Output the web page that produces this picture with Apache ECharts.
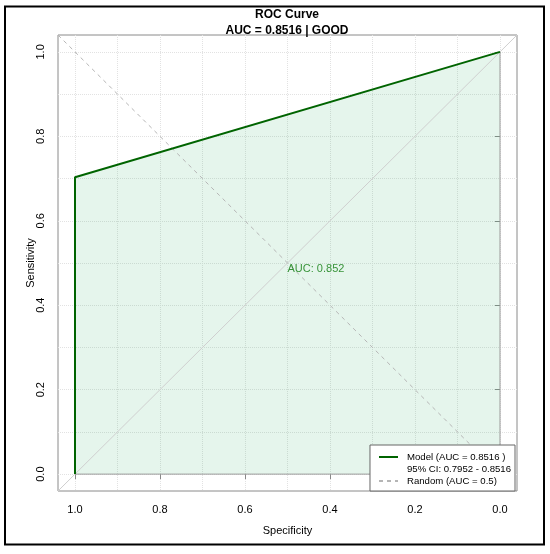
<!DOCTYPE html>
<html>
<head>
<meta charset="utf-8">
<script src="https://cdn.jsdelivr.net/npm/echarts@6/dist/echarts.min.js"></script>
<style>html,body{margin:0;padding:0;background:#fff}#c{width:550px;height:554px}</style>
</head>
<body>
<div id="c"></div>
<script>
// ---- data ----
var rocSpecificity = [1.0, 1.0, 0.0];
var rocSensitivity = [0.0, 0.703, 1.0];
var fillBorderSpec = [1.0, 0.0, 0.0];
var fillBorderSens = [0.0, 0.0, 1.0];
var identitySpec = [1.04, -0.04];
var identitySens = [-0.04, 1.04];
var randomSpec = [1.04, -0.04];
var randomSens = [1.04, -0.04];
var tickValues = [0, 0.2, 0.4, 0.6, 0.8, 1.0];
var gridValues = [0, 0.1, 0.2, 0.3, 0.4, 0.5, 0.6, 0.7, 0.8, 0.9, 1.0];
var aucLabelPos = [0.5, 0.5];
var aucText = 'AUC: 0.852';
var titleLines = ['ROC Curve', 'AUC = 0.8516 | GOOD'];
var legendNames = ['Model (AUC = 0.8516 )', '95% CI: 0.7952 - 0.8516', 'Random (AUC = 0.5)'];

function zip(a, b) { return a.map(function (v, i) { return [v, b[i]]; }); }

var FONT = 'Liberation Sans, Arial, sans-serif';
var chart = echarts.init(document.getElementById('c'));

var tickAxisCommon = {
  type: 'value', min: -0.04, max: 1.04,
  axisLine: { show: false },
  axisTick: { show: true, inside: false, length: 5, lineStyle: { color: '#888' }, customValues: tickValues },
  axisLabel: { customValues: tickValues, color: '#000', fontSize: 11, fontFamily: FONT,
    formatter: function (v) { return v.toFixed(1); } },
  splitLine: { show: false }
};
var gridAxisCommon = {
  type: 'value', min: -0.04, max: 1.04,
  axisLine: { show: false },
  axisTick: { show: false, customValues: gridValues },
  axisLabel: { show: false },
  splitLine: { show: true, lineStyle: { color: '#e2e2e2', type: 'dotted', width: 1 } }
};
var transparent = 'rgba(0,0,0,0)';

var option = {
  animation: false,
  backgroundColor: '#fff',
  grid: { left: 58, right: 33, top: 35, bottom: 63, show: true, borderColor: '#8a8a8a', borderWidth: 1, backgroundColor: 'transparent' },
  xAxis: [
    Object.assign({}, tickAxisCommon, { inverse: true, position: 'bottom',
      axisLabel: Object.assign({}, tickAxisCommon.axisLabel, { margin: 13 }),
      name: 'Specificity', nameLocation: 'middle', nameGap: 34, nameMoveOverlap: false,
      nameTextStyle: { color: '#000', fontSize: 11, fontFamily: FONT } }),
    Object.assign({}, gridAxisCommon, { inverse: true, position: 'top' })
  ],
  yAxis: [
    Object.assign({}, tickAxisCommon, { position: 'left',
      axisLabel: Object.assign({}, tickAxisCommon.axisLabel, { rotate: 90, margin: 12 }),
      name: 'Sensitivity', nameLocation: 'middle', nameGap: 22, nameMoveOverlap: false,
      nameTextStyle: { color: '#000', fontSize: 11, fontFamily: FONT } }),
    Object.assign({}, gridAxisCommon, { position: 'right' })
  ],
  legend: {
    orient: 'vertical', right: 35, bottom: 63,
    backgroundColor: '#fff', borderColor: '#666', borderWidth: 1,
    padding: [7, 4, 5, 8], itemGap: 2, itemWidth: 19, itemHeight: 11,
    textStyle: { fontSize: 9.6, fontFamily: FONT, color: '#000', padding: [0, 0, 0, 4] },
    itemStyle: { color: transparent, borderColor: transparent, borderWidth: 0 },
    selectedMode: false,
    data: [
      { name: legendNames[0] },
      { name: legendNames[1] },
      { name: legendNames[2] }
    ]
  },
  graphic: [
    { type: 'rect', shape: { x: 5, y: 6.5, width: 539, height: 538 }, style: { fill: 'none', stroke: '#000', lineWidth: 2 }, z: 100 },
    { type: 'text', x: 287, y: 15, style: { text: titleLines[0], font: 'bold 12px ' + FONT, fill: '#000', align: 'center', verticalAlign: 'middle' } },
    { type: 'text', x: 287, y: 31, style: { text: titleLines[1], font: 'bold 12px ' + FONT, fill: '#000', align: 'center', verticalAlign: 'middle' } }
  ],
  series: [
    { name: 'fill', type: 'line', data: zip(rocSpecificity, rocSensitivity), symbol: 'none',
      lineStyle: { width: 0 }, areaStyle: { color: 'rgba(60,179,113,0.19)', origin: 0 }, z: 1, silent: true },
    { name: 'border', type: 'line', data: zip(fillBorderSpec, fillBorderSens), symbol: 'none',
      lineStyle: { color: '#9a9a9a', width: 1 }, z: 2, silent: true },
    { name: 'identity', type: 'line', data: zip(identitySpec, identitySens), symbol: 'none',
      lineStyle: { color: '#cfcfcf', width: 1 }, z: 3, silent: true },
    { name: legendNames[2], type: 'line', data: zip(randomSpec, randomSens), symbol: 'none',
      lineStyle: { color: '#b5b5b5', width: 1, type: [4, 4] }, itemStyle: { color: '#b5b5b5' }, z: 3, silent: true },
    { name: legendNames[0], type: 'line', data: zip(rocSpecificity, rocSensitivity), symbol: 'none',
      lineStyle: { color: '#006400', width: 2 }, itemStyle: { color: '#006400' }, z: 5, silent: true },
    { name: legendNames[1], type: 'line', data: [], symbol: 'none', lineStyle: { width: 0, color: transparent }, itemStyle: { color: transparent } },
    { name: 'auclabel', type: 'scatter', data: [aucLabelPos], symbolSize: 0, z: 6, silent: true,
      label: { show: true, formatter: aucText, position: [0, 0], align: 'left', verticalAlign: 'top',
        color: '#0b7a0b', fontSize: 11, fontFamily: FONT } }
  ]
};
chart.setOption(option);
</script>
</body>
</html>
